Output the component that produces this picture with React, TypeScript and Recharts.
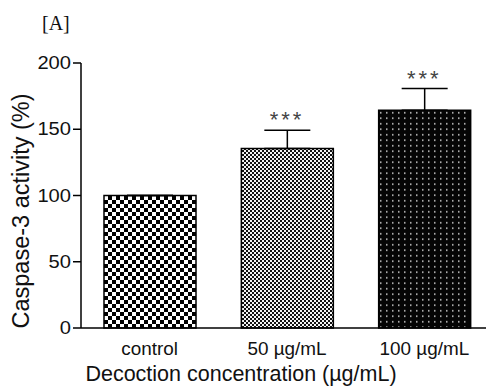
import {
  ComposedChart,
  Bar,
  Line,
  Cell,
  XAxis,
  YAxis,
  ErrorBar,
  LabelList,
  Label,
} from "recharts";

const categories = ["control", "50 µg/mL", "100 µg/mL"];
const activity = [100, 135.4, 164.3];
const errorUp = [0, 13.8, 16.4];
const significance = ["", "***", "***"];
const yTicks = [0, 50, 100, 150, 200];

const patternIds = ["checkLarge", "checkSmall", "dotsDark"];

const data = categories.map((name, i) => ({
  name,
  activity: activity[i],
  err: [0, errorUp[i]],
  sigTop: significance[i] ? activity[i] + errorUp[i] : null,
  sig: significance[i],
}));

const FONT = "'Liberation Sans', Arial, sans-serif";
const INK = "#111";

function YTick({ x, y, payload }: any) {
  return (
    <text
      transform={`translate(${x + 1},${y}) scale(1.15,1)`}
      textAnchor="end"
      dominantBaseline="central"
      fontFamily={FONT}
      fontSize={17.5}
      fill={INK}
    >
      {payload.value}
    </text>
  );
}

function XTick({ x, y, payload }: any) {
  return (
    <text
      transform={`translate(${x},${y + 19}) scale(1.08,1)`}
      textAnchor="middle"
      fontFamily={FONT}
      fontSize={17.5}
      fill={INK}
    >
      {payload.value}
    </text>
  );
}

function SigLabel({ x, y, index }: any) {
  const s = significance[index];
  if (!s || y == null) return null;
  return (
    <text
      x={x}
      y={y - 3}
      textAnchor="middle"
      fontFamily={FONT}
      fontSize={22}
      letterSpacing={3}
      fill="#444"
    >
      {s}
    </text>
  );
}

export default function App() {
  return (
    <div
      style={{
        position: "absolute",
        left: 0,
        top: 0,
        width: 486,
        height: 387,
        overflow: "hidden",
        background: "#fff",
      }}
    >
      <ComposedChart
        width={500}
        height={387}
        data={data}
        margin={{ top: 63, right: 7, bottom: 29, left: 0 }}
        barCategoryGap={45}
      >
        <defs>
          <pattern id="checkLarge" width={8} height={8} patternUnits="userSpaceOnUse">
            <rect width={8} height={8} fill="#fff" />
            <rect x={0} y={0} width={4} height={4} fill="#000" />
            <rect x={4} y={4} width={4} height={4} fill="#000" />
          </pattern>
          <pattern id="checkSmall" width={4} height={4} patternUnits="userSpaceOnUse">
            <rect width={4} height={4} fill="#f4f4f4" />
            <rect x={0} y={0} width={2} height={2} fill="#111" />
            <rect x={2} y={2} width={2} height={2} fill="#111" />
          </pattern>
          <pattern id="dotsDark" width={6} height={5.5} patternUnits="userSpaceOnUse">
            <rect width={6} height={5.5} fill="#050505" />
            <rect x={2} y={2} width={1.5} height={1.5} fill="#cfcfcf" />
          </pattern>
        </defs>
        <XAxis
          dataKey="name"
          height={30}
          axisLine={{ stroke: "#000", strokeWidth: 1.5 }}
          tickLine={false}
          tick={<XTick />}
          interval={0}
        >
          <Label
            content={() => (
              <text
                x={241}
                y={381}
                textAnchor="middle"
                fontFamily={FONT}
                fontSize={21.5}
                fill={INK}
              >
                Decoction concentration (µg/mL)
              </text>
            )}
          />
        </XAxis>
        <YAxis
          width={81}
          domain={[0, 200]}
          ticks={yTicks}
          interval={0}
          axisLine={{ stroke: "#000", strokeWidth: 1.5 }}
          tickLine={{ stroke: "#000", strokeWidth: 1.5 }}
          tickSize={8}
          tickMargin={3}
          tick={<YTick />}
        >
          <Label
            content={() => (
              <g>
                <text
                  x={29}
                  y={211}
                  transform="rotate(-90, 29, 211)"
                  textAnchor="middle"
                  fontFamily={FONT}
                  fontSize={23.5}
                  fill={INK}
                >
                  Caspase-3 activity (%)
                </text>
                <text
                  x={42}
                  y={30}
                  fontFamily="'Liberation Serif', 'Times New Roman', serif"
                  fontSize={20}
                  fill={INK}
                >
                  [A]
                </text>
              </g>
            )}
          />
        </YAxis>
        <Bar
          dataKey="activity"
          barSize={92}
          stroke="#000"
          strokeWidth={1.5}
          isAnimationActive={false}
        >
          {data.map((d, i) => (
            <Cell key={d.name} fill={`url(#${patternIds[i]})`} />
          ))}
          <ErrorBar
            dataKey="err"
            width={23}
            stroke="#000"
            strokeWidth={1.5}
            direction="y"
          />
        </Bar>
        <Line
          dataKey="sigTop"
          stroke="none"
          dot={false}
          activeDot={false}
          isAnimationActive={false}
        >
          <LabelList dataKey="sig" content={<SigLabel />} />
        </Line>
      </ComposedChart>
    </div>
  );
}
